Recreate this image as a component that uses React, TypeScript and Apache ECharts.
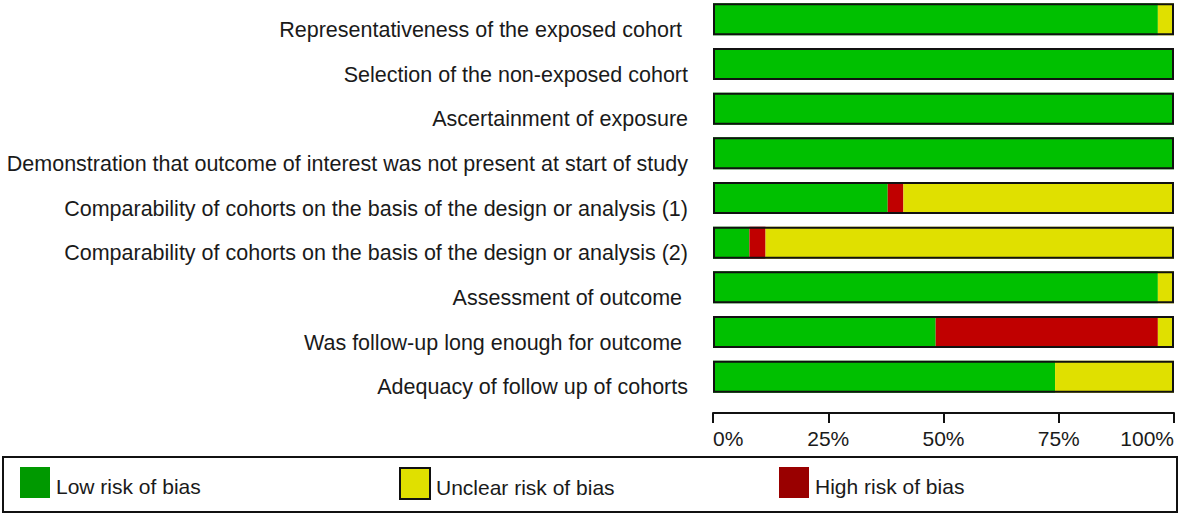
import React, { useEffect, useRef } from "react";
import * as echarts from "echarts";

const categories = [
  "Representativeness of the exposed cohort ",
  "Selection of the non-exposed cohort",
  "Ascertainment of exposure",
  "Demonstration that outcome of interest was not present at start of study",
  "Comparability of cohorts on the basis of the design or analysis (1)",
  "Comparability of cohorts on the basis of the design or analysis (2)",
  "Assessment of outcome ",
  "Was follow-up long enough for outcome ",
  "Adequacy of follow up of cohorts",
];
const lowRisk = [96.5, 100, 100, 100, 37.9, 7.9, 96.5, 48.3, 74.2];
const highRisk = [0, 0, 0, 0, 3.4, 3.5, 0, 48.2, 0];
const unclearRisk = [3.5, 0, 0, 0, 58.7, 88.6, 3.5, 3.5, 25.8];
const legendNames = ["Low risk of bias", "Unclear risk of bias", "High risk of bias"];

export default function App() {
  const ref = useRef<HTMLDivElement>(null);
  useEffect(() => {
    if (!ref.current) return;
    const chart = echarts.init(ref.current, null, { renderer: "svg" });
    const totals = lowRisk.map((v, i) => v + highRisk[i] + unclearRisk[i]);
    const textColor = "#1a1a1a";
    const font = "Liberation Sans, Arial, sans-serif";
    const legendBase = {
      top: 470,
      padding: 0,
      itemWidth: 30,
      itemHeight: 31,
      icon: "rect",
      selectedMode: false,
      formatter: "{t|{name}}",
      textStyle: {
        fontSize: 21,
        color: textColor,
        fontFamily: font,
        rich: {
          t: {
            fontSize: 21,
            color: textColor,
            fontFamily: font,
            padding: [8, 0, 0, 1],
          },
        },
      },
    };
    chart.setOption({
      animation: false,
      textStyle: { fontFamily: font },
      grid: { left: 713, right: 6, top: 0, bottom: 118 },
      xAxis: {
        type: "value",
        min: 0,
        max: 100,
        interval: 25,
        offset: 14,
        splitLine: { show: false },
        axisLine: { show: true, lineStyle: { color: "#111", width: 2 } },
        axisTick: { show: true, length: 10, lineStyle: { color: "#111", width: 2 } },
        axisLabel: {
          formatter: "{value}%",
          fontSize: 21,
          color: textColor,
          margin: 15,
          alignMinLabel: "left",
          alignMaxLabel: "right",
        },
      },
      yAxis: {
        type: "category",
        inverse: true,
        data: categories,
        axisLine: { show: false },
        axisTick: { show: false },
        axisLabel: {
          fontSize: 21.5,
          color: textColor,
          margin: 25,
          verticalAlign: "top",
          lineHeight: 21,
        },
      },
      legend: [
        {
          ...legendBase,
          left: 20,
          data: [{ name: legendNames[0], itemStyle: { color: "#009900" } }],
        },
        {
          ...legendBase,
          left: 399,
          data: [
            {
              name: legendNames[1],
              itemStyle: { color: "#e0e000", borderColor: "#111", borderWidth: 2 },
            },
          ],
        },
        {
          ...legendBase,
          left: 779,
          data: [{ name: legendNames[2], itemStyle: { color: "#990000" } }],
        },
      ],
      series: [
        {
          name: legendNames[0],
          type: "bar",
          stack: "risk",
          barWidth: 32,
          barGap: "-100%",
          data: lowRisk,
          itemStyle: { color: "#00c000" },
        },
        {
          name: legendNames[2],
          type: "bar",
          stack: "risk",
          barWidth: 32,
          barGap: "-100%",
          data: highRisk,
          itemStyle: { color: "#c00000" },
        },
        {
          name: legendNames[1],
          type: "bar",
          stack: "risk",
          barWidth: 32,
          barGap: "-100%",
          data: unclearRisk,
          itemStyle: { color: "#e0e000" },
        },
        {
          name: "outline",
          type: "bar",
          barWidth: 32,
          barGap: "-100%",
          z: 5,
          silent: true,
          data: totals,
          itemStyle: { color: "rgba(0,0,0,0)", borderColor: "#111", borderWidth: 2 },
        },
      ],
      graphic: [
        {
          type: "rect",
          shape: { x: 3, y: 460, width: 1174, height: 55 },
          style: { fill: "none", stroke: "#111", lineWidth: 2 },
        },
      ],
    });
    return () => chart.dispose();
  }, []);
  return (
    <div
      ref={ref}
      style={{ position: "absolute", left: 0, top: -3, width: 1180, height: 520, background: "#fff" }}
    />
  );
}
